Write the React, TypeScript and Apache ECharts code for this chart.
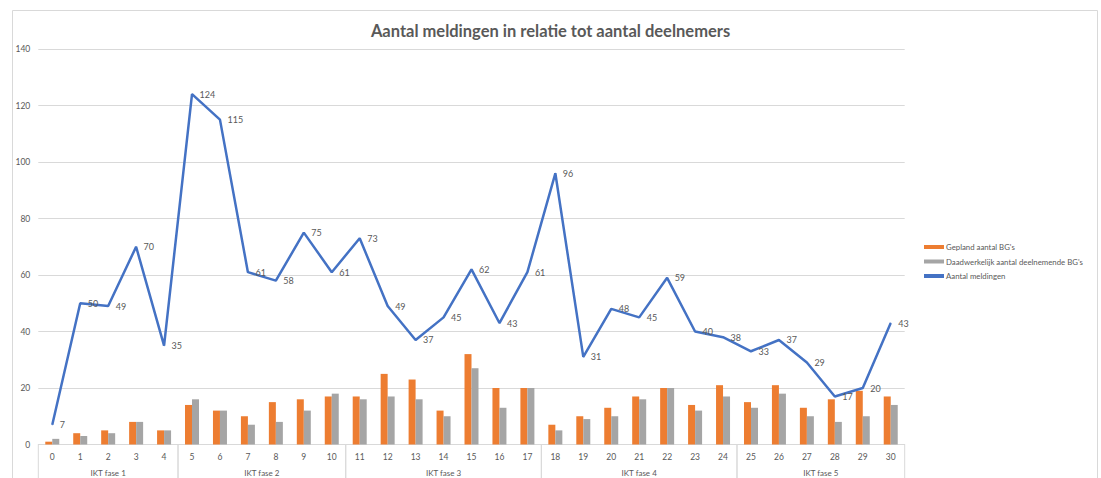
import React, { useEffect, useRef } from "react";
import * as echarts from "echarts";

const categories = Array.from({ length: 31 }, (_, i) => String(i));
const gepland = [1, 4, 5, 8, 5, 14, 12, 10, 15, 16, 17, 17, 25, 23, 12, 32, 20, 20, 7, 10, 13, 17, 20, 14, 21, 15, 21, 13, 16, 19, 17];
const daadwerkelijk = [2, 3, 4, 8, 5, 16, 12, 7, 8, 12, 18, 16, 17, 16, 10, 27, 13, 20, 5, 9, 10, 16, 20, 12, 17, 13, 18, 10, 8, 10, 14];
const meldingen = [7, 50, 49, 70, 35, 124, 115, 61, 58, 75, 61, 73, 49, 37, 45, 62, 43, 61, 96, 31, 48, 45, 59, 40, 38, 33, 37, 29, 17, 20, 43];
const groupNames = ["IKT fase 1", "IKT fase 2", "IKT fase 3", "IKT fase 4", "IKT fase 5"];
const groupStart = [0, 5, 11, 18, 25];
const groupEnd = [4, 10, 17, 24, 30];

const FONT = "Lato, 'Noto Sans', sans-serif";
const TXT = "#595959";
const GRID = "#d9d9d9";

export default function App() {
  const ref = useRef<HTMLDivElement>(null);
  useEffect(() => {
    if (!ref.current) return;
    const chart = echarts.init(ref.current, null, { renderer: "svg" });
    chart.setOption({
      animation: false,
      textStyle: { fontFamily: FONT },
      title: {
        text: "Aantal meldingen in relatie tot aantal deelnemers",
        left: "center",
        top: 17,
        textStyle: { fontSize: 16.5, fontWeight: "bold", color: TXT, fontFamily: FONT },
      },
      graphic: [
        {
          type: "rect",
          left: 10,
          top: 8,
          shape: { width: 1085, height: 520 },
          style: { fill: "none", stroke: GRID, lineWidth: 1 },
          z: -10,
          silent: true,
        },
      ],
      legend: {
        orient: "vertical",
        left: 919,
        top: 238,
        itemWidth: 20,
        itemHeight: 4,
        itemGap: 6.5,
        textStyle: { fontSize: 7.8, color: TXT, fontFamily: FONT, padding: [0, 0, 0, -3] },
        data: [
          { name: "Gepland aantal BG's", icon: "rect" },
          { name: "Daadwerkelijk aantal deelnemende BG's", icon: "rect" },
          { name: "Aantal meldingen", icon: "rect" },
        ],
      },
      grid: { left: 38.3, right: 196.3, top: 49, bottom: 33.5, containLabel: false },
      xAxis: {
        type: "category",
        data: categories,
        axisLine: { lineStyle: { color: GRID } },
        axisTick: { show: false },
        axisLabel: { color: TXT, fontSize: 8.5, margin: 8, fontFamily: FONT },
      },
      yAxis: {
        type: "value",
        min: 0,
        max: 140,
        interval: 20,
        axisLine: { show: false },
        axisTick: { show: false },
        splitLine: { lineStyle: { color: GRID } },
        axisLabel: { color: TXT, fontSize: 8.5, margin: 8, fontFamily: FONT },
      },
      series: [
        {
          name: "Gepland aantal BG's",
          type: "bar",
          data: gepland,
          barWidth: 7,
          barGap: "0%",
          itemStyle: { color: "#ED7D31" },
        },
        {
          name: "Daadwerkelijk aantal deelnemende BG's",
          type: "bar",
          data: daadwerkelijk,
          barWidth: 7,
          barGap: "0%",
          itemStyle: { color: "#A5A5A5" },
        },
        {
          name: "Aantal meldingen",
          type: "line",
          data: meldingen,
          symbol: "circle",
          symbolSize: 1,
          lineStyle: { color: "#4472C4", width: 2.5 },
          itemStyle: { color: "#4472C4" },
          label: {
            show: true,
            position: "right",
            distance: 7,
            color: TXT,
            fontSize: 9,
            fontFamily: FONT,
          },
          z: 5,
        },
        {
          type: "custom",
          silent: true,
          clip: false,
          data: groupStart.map((s, i) => [s, groupEnd[i], 0]),
          encode: { x: 0, y: 2 },
          renderItem: (params: any, api: any) => {
            const s = api.value(0);
            const e = api.value(1);
            const name = groupNames[params.dataIndex];
            const bw = api.size([1, 0])[0];
            const p0 = api.coord([s, 0]);
            const p1 = api.coord([e, 0]);
            const xL = p0[0] - bw / 2;
            const xR = p1[0] + bw / 2;
            const y = p0[1];
            return {
              type: "group",
              children: [
                { type: "line", shape: { x1: xL, y1: y, x2: xL, y2: y + 60 }, style: { stroke: GRID, lineWidth: 1 } },
                { type: "line", shape: { x1: xR, y1: y, x2: xR, y2: y + 60 }, style: { stroke: GRID, lineWidth: 1 } },
                {
                  type: "text",
                  x: (xL + xR) / 2,
                  y: y + 28,
                  style: {
                    text: name,
                    fill: TXT,
                    fontSize: 8,
                    fontFamily: FONT,
                    align: "center",
                    verticalAlign: "middle",
                  },
                },
              ],
            };
          },
        },
      ],
    });
    return () => chart.dispose();
  }, []);
  return <div ref={ref} style={{ position: "fixed", left: 0, top: 0, width: 1101, height: 478, background: "#fff" }} />;
}
